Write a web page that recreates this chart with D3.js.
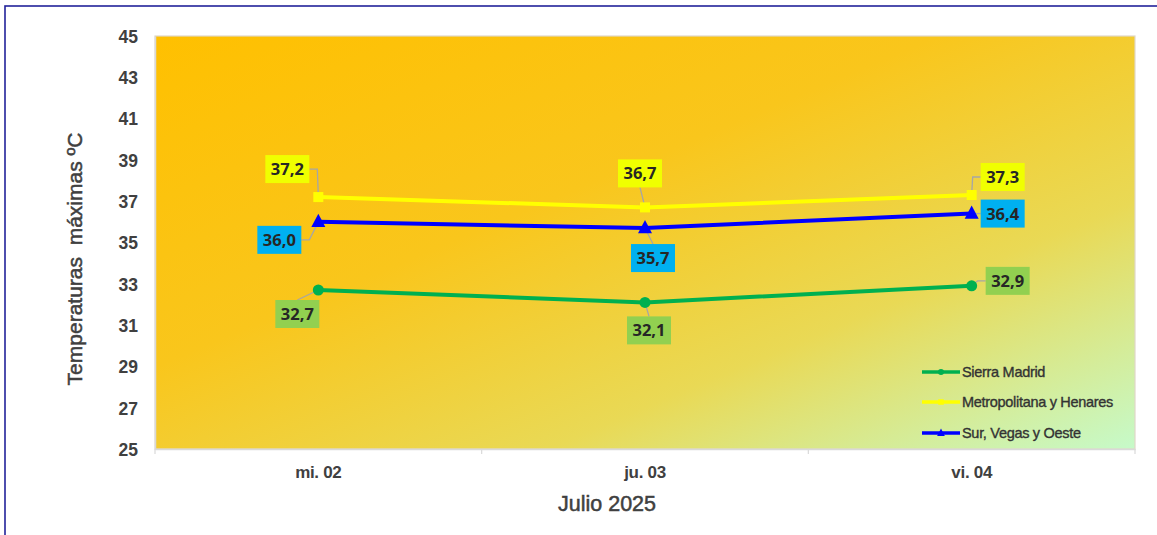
<!DOCTYPE html>
<html><head><meta charset="utf-8">
<script src="https://cdn.jsdelivr.net/npm/d3@7"></script>
<style>
html,body{margin:0;padding:0;background:#fff;}
svg{display:block;}
</style></head>
<body>
<svg id="chart" width="1157" height="535"></svg>
<script>
// ---- data ----
const categories = ["mi. 02", "ju. 03", "vi. 04"];
const seriesNames = ["Sierra Madrid", "Metropolitana y Henares", "Sur, Vegas y Oeste"];
const sierraValues = [32.7, 32.1, 32.9];
const metroValues = [37.2, 36.7, 37.3];
const surValues = [36.0, 35.7, 36.4];
const yTicks = [25, 27, 29, 31, 33, 35, 37, 39, 41, 43, 45];
const yTitle = "Temperaturas  máximas ºC";
const xTitle = "Julio 2025";

// ---- layout / styles ----
const W = 1157, H = 535;
const plot = {left: 155, right: 1135, top: 36, bottom: 449};
const seriesStyle = [
  {line: "#00B050", box: "#92D050", marker: "circle"},
  {line: "#FFFF00", box: "#F0FF00", marker: "square"},
  {line: "#0000FF", box: "#00B0F0", marker: "triangle"}
];
// label box centre offsets from the point [dx, dy] per series per category
const labelOffsets = [
  [[-21, 24], [4, 28], [36, -5]],
  [[-31, -28], [-5, -34], [31, -18]],
  [[-39, 18], [8, 30], [31, 0]]
];

const allSeries = [sierraValues, metroValues, surValues];

const svg = d3.select("#chart");
const defs = svg.append("defs");
const grad = defs.append("linearGradient").attr("id", "bg")
  .attr("x1", 0).attr("y1", 0).attr("x2", 1).attr("y2", 1);
[[0, "#FFC000"], [0.4, "#F9C61C"], [0.7, "#E9D955"], [1, "#C6FACA"]].forEach(([o, c]) =>
  grad.append("stop").attr("offset", o).attr("stop-color", c));

// outer frame
svg.append("rect").attr("x", 5).attr("y", 6).attr("width", W + 10).attr("height", H + 10)
  .attr("fill", "none").attr("stroke", "#22229A").attr("stroke-width", 1.6);

const x = d3.scaleBand().domain(categories).range([plot.left, plot.right]);
const y = d3.scaleLinear().domain([25, 45]).range([plot.bottom, plot.top]);

// plot background
svg.append("rect").attr("x", plot.left).attr("y", plot.top)
  .attr("width", plot.right - plot.left).attr("height", plot.bottom - plot.top)
  .attr("fill", "url(#bg)").attr("stroke", "#E0D8C8").attr("stroke-width", 1.2);

const FONT = "Liberation Sans, Arial, sans-serif";

// y axis
const yAxis = svg.append("g").attr("transform", `translate(${plot.left},0)`)
  .call(d3.axisLeft(y).tickValues(yTicks).tickSize(0).tickPadding(17));
yAxis.select(".domain").attr("stroke", "#D9D9D9").attr("stroke-width", 1.5);
yAxis.selectAll("text").attr("font-family", FONT)
  .attr("font-size", 17.5).attr("font-weight", "bold").attr("fill", "#404040").attr("dy", "0.36em");

// x axis
const xAxis = svg.append("g").attr("transform", `translate(0,${plot.bottom})`)
  .call(d3.axisBottom(x).tickSize(0).tickPadding(17));
xAxis.select(".domain").attr("stroke", "#D9D9D9").attr("stroke-width", 1.5);
xAxis.selectAll("text").attr("font-family", FONT)
  .attr("font-size", 17).attr("font-weight", "bold").attr("fill", "#404040")
  .attr("letter-spacing", -0.3);
const bounds = [plot.left, ...categories.map(c => x(c) + x.bandwidth())];
xAxis.selectAll(".bnd").data(bounds).join("line").attr("class", "bnd")
  .attr("x1", d => d).attr("x2", d => d).attr("y1", 0).attr("y2", 5)
  .attr("stroke", "#D9D9D9").attr("stroke-width", 1.2);

// titles
svg.append("text").attr("transform", "translate(82,259) rotate(-90)")
  .attr("text-anchor", "middle").attr("font-family", FONT)
  .attr("font-size", 21).attr("fill", "#404040").attr("stroke", "#404040").attr("stroke-width", 0.5)
  .attr("xml:space", "preserve").text(yTitle);
svg.append("text").attr("x", 607).attr("y", 511).attr("text-anchor", "middle")
  .attr("font-family", FONT)
  .attr("font-size", 21.5).attr("fill", "#404040").attr("stroke", "#404040").attr("stroke-width", 0.5)
  .text(xTitle);

const cx = c => x(c) + x.bandwidth() / 2;

function drawMarker(g, type, px, py, color, scale) {
  scale = scale || 1;
  if (type === "circle") {
    g.append("circle").attr("cx", px).attr("cy", py).attr("r", 5.5 * scale).attr("fill", color);
  } else if (type === "square") {
    const s = 10 * scale;
    g.append("rect").attr("x", px - s / 2).attr("y", py - s / 2).attr("width", s).attr("height", s).attr("fill", color);
  } else {
    const s = 7 * scale;
    g.append("path").attr("d", `M${px},${py - s * 1.15}L${px + s},${py + s * 0.75}L${px - s},${py + s * 0.75}Z`).attr("fill", color);
  }
}

const line = d3.line().x((d, i) => cx(categories[i])).y(d => y(d));

const leaderG = svg.append("g");
const lineG = svg.append("g");
const labelG = svg.append("g");

allSeries.forEach((vals, si) => {
  const st = seriesStyle[si];
  lineG.append("path").datum(vals).attr("d", line).attr("fill", "none")
    .attr("stroke", st.line).attr("stroke-width", 4).attr("stroke-linejoin", "round");
  vals.forEach((v, ci) => {
    const px = cx(categories[ci]), py = y(v);
    drawMarker(lineG, st.marker, px, py, st.line);
    const [dx, dy] = labelOffsets[si][ci];
    const bw = 44, bh = 28;
    const bx = px + dx, by = py + dy;
    let pts;
    if (Math.abs(dx) > bw / 2 + 2) {
      const sx = dx < 0 ? bx + bw / 2 : bx - bw / 2;
      const ex = dx < 0 ? sx + 8 : sx - 8;
      pts = [[sx, by], [ex, by], [px, py]];
    } else {
      const sy = dy < 0 ? by + bh / 2 : by - bh / 2;
      pts = [[bx, sy], [px, py]];
    }
    leaderG.append("path").attr("d", d3.line()(pts)).attr("fill", "none")
      .attr("stroke", "#A6A6A6").attr("stroke-width", 1.3);
    labelG.append("rect").attr("x", bx - bw / 2).attr("y", by - bh / 2)
      .attr("width", bw).attr("height", bh).attr("fill", st.box);
    labelG.append("text").attr("x", bx).attr("y", by).attr("dy", "0.36em")
      .attr("text-anchor", "middle").attr("font-family", "Open Sans, sans-serif")
      .attr("font-weight", 700).attr("font-size", 16.5).attr("fill", "#262626")
      .text(d3.format(".1f")(v).replace(".", ","));
  });
});

// legend
const legY = [372, 402, 433];
seriesNames.forEach((name, i) => {
  const st = seriesStyle[i];
  const g = svg.append("g");
  g.append("line").attr("x1", 922).attr("x2", 960).attr("y1", legY[i]).attr("y2", legY[i])
    .attr("stroke", st.line).attr("stroke-width", 3.5);
  drawMarker(g, st.marker, 941, legY[i], st.line, 0.55);
  g.append("text").attr("x", 962).attr("y", legY[i]).attr("dy", "0.36em")
    .attr("font-family", FONT).attr("font-size", 14.5)
    .attr("letter-spacing", -0.3).attr("fill", "#333").attr("stroke", "#333").attr("stroke-width", 0.35)
    .text(name);
});
</script>
</body></html>
